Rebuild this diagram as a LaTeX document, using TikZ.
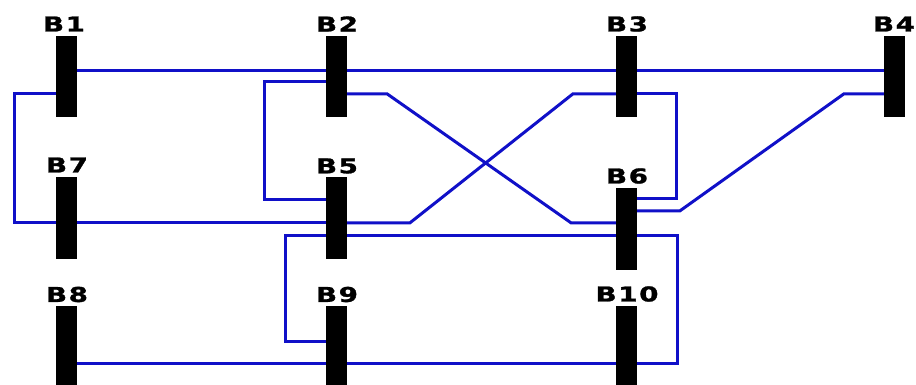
\documentclass[tikz,border=0pt]{standalone}
\usepackage{fontspec}
\usepackage{graphicx}
\setmainfont{DejaVu Sans}
\newfontfamily\lblfont[LetterSpace=6,BoldFeatures={FakeBold=1.2}]{DejaVu Sans}
\usetikzlibrary{calc,backgrounds}
\definecolor{wirec}{RGB}{16,16,200}
\begin{document}
\begin{tikzpicture}[x=1pt,y=-1pt,
  bus/.style={rectangle,fill=black,draw=none,inner sep=0pt,minimum width=21pt},
  lbl/.style={inner sep=0pt,font=\fontsize{20.5}{20.5}\lblfont\bfseries},
  wire/.style={draw=wirec,line width=3pt,line join=miter}]
\useasboundingbox (0,0) rectangle (916,385);
% bus bars
\node[bus,minimum height=81pt] (B1) at (66,76.5) {};
\node[bus,minimum height=81pt] (B2) at (336,76.5) {};
\node[bus,minimum height=81pt] (B3) at (626,76.5) {};
\node[bus,minimum height=81pt] (B4) at (894,76.5) {};
\node[bus,minimum height=82pt] (B7) at (66,218) {};
\node[bus,minimum height=82pt] (B5) at (336,218) {};
\node[bus,minimum height=82pt] (B6) at (626,229) {};
\node[bus,minimum height=80pt] (B8) at (66,346) {};
\node[bus,minimum height=80pt] (B9) at (336,346) {};
\node[bus,minimum height=80pt] (B10) at (626,346) {};
% labels
\node[lbl] (L1) at (64,24) {\scalebox{1.35}[1]{B1}};
\node[lbl] (L2) at (337,24) {\scalebox{1.35}[1]{B2}};
\node[lbl] (L3) at (627,24) {\scalebox{1.35}[1]{B3}};
\node[lbl] (L4) at (894,24) {\scalebox{1.35}[1]{B4}};
\node[lbl] (L7) at (67,165) {\scalebox{1.35}[1]{B7}};
\node[lbl] (L5) at (337,166) {\scalebox{1.35}[1]{B5}};
\node[lbl] (L6) at (627,176) {\scalebox{1.35}[1]{B6}};
\node[lbl] (L8) at (67,294.5) {\scalebox{1.35}[1]{B8}};
\node[lbl] (L9) at (337,294.5) {\scalebox{1.35}[1]{B9}};
\node[lbl] (L10) at (627,294) {\scalebox{1.35}[1]{B10}};
% tap points
\coordinate (B1-71) at ($(B1.north)+(0,35)$);
\coordinate (B1-94) at ($(B1.north)+(0,58)$);
\coordinate (B2-82) at ($(B2.north)+(0,46)$);
\coordinate (B2-94) at ($(B2.north)+(0,58)$);
\coordinate (B3-94) at ($(B3.north)+(0,58)$);
\coordinate (B4-71) at ($(B4.north)+(0,35)$);
\coordinate (B4-94) at ($(B4.north)+(0,58)$);
\coordinate (B7-223) at ($(B7.north)+(0,46)$);
\coordinate (B5-200) at ($(B5.north)+(0,23)$);
\coordinate (B5-223) at ($(B5.north)+(0,46)$);
\coordinate (B5-236) at ($(B5.north)+(0,59)$);
\coordinate (B6-199) at ($(B6.north)+(0,11)$);
\coordinate (B6-211) at ($(B6.north)+(0,23)$);
\coordinate (B6-223) at ($(B6.north)+(0,35)$);
\coordinate (B6-236) at ($(B6.north)+(0,48)$);
\coordinate (B8-364) at ($(B8.north)+(0,58)$);
\coordinate (B9-342) at ($(B9.north)+(0,36)$);
\coordinate (B9-364) at ($(B9.north)+(0,58)$);
\coordinate (B10-364) at ($(B10.north)+(0,58)$);
\begin{pgfonlayer}{background}
\draw[wire] (B1-71) -- (B4-71);
\draw[wire] (B1-94) -- ++(-52,0) |- (B7-223);
\draw[wire] (B7-223) -- (B5-223);
\draw[wire] (B5-223) -- ++(74,0) -- ($(B3-94)+(-53,0)$) -- (B3-94);
\draw[wire] (B2-82) -- ++(-72,0) |- (B5-200);
\draw[wire] (B2-94) -- ++(51,0) -- ($(B6-223)+(-55,0)$) -- (B6-223);
\draw[wire] (B3-94) -- ++(50,0) |- (B6-199);
\draw[wire] (B4-94) -- ++(-50,0) -- ($(B6-211)+(54,0)$) -- (B6-211);
\draw[wire] (B5-236) -- ++(-51,0) |- (B9-342);
\draw[wire] (B5-236) -- (B6-236);
\draw[wire] (B6-236) -- ++(51,0) |- (B10-364);
\draw[wire] (B8-364) -- (B9-364);
\draw[wire] (B9-364) -- (B10-364);
\end{pgfonlayer}
\end{tikzpicture}
\end{document}
